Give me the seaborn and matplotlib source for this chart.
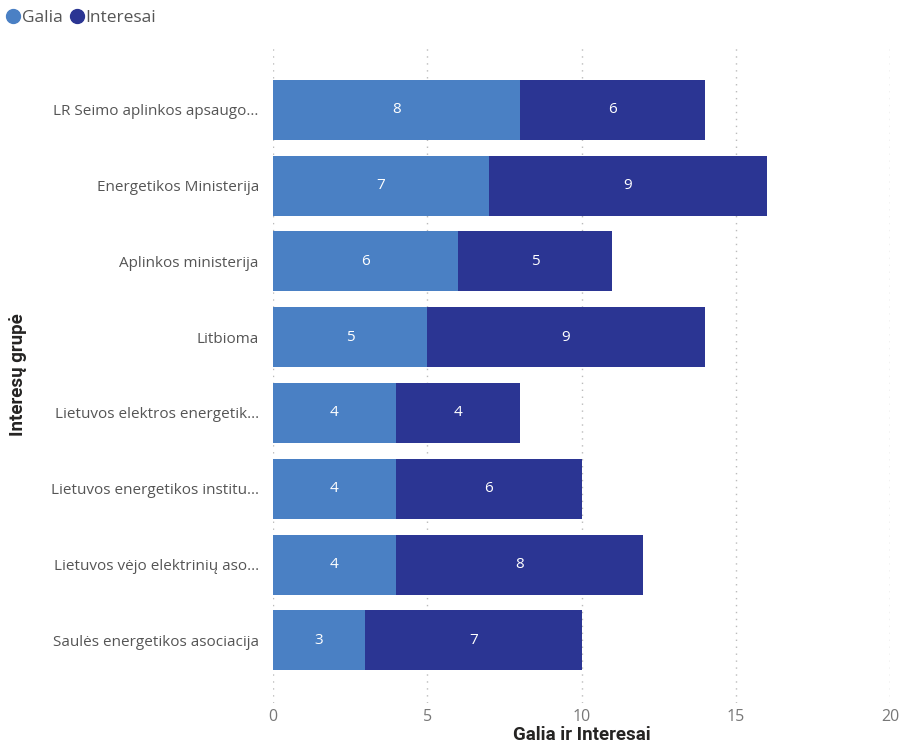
import pandas as pd
import matplotlib
matplotlib.use("Agg")
import matplotlib.pyplot as plt
import seaborn as sns
from matplotlib.lines import Line2D

groups = [
    "LR Seimo aplinkos apsaugo...",
    "Energetikos Ministerija",
    "Aplinkos ministerija",
    "Litbioma",
    "Lietuvos elektros energetik...",
    "Lietuvos energetikos institu...",
    "Lietuvos vėjo elektrinių aso...",
    "Saulės energetikos asociacija",
]
galia = [8, 7, 6, 5, 4, 4, 4, 3]
interesai = [6, 9, 5, 9, 4, 6, 8, 7]

c_galia = "#4a80c4"
c_inter = "#2b3593"

df = pd.DataFrame({"group": groups, "Galia": galia, "Interesai": interesai})
df["total"] = df["Galia"] + df["Interesai"]

sns.set_style("white")
plt.rcParams["font.family"] = ["Open Sans", "DejaVu Sans"]

fig = plt.figure(figsize=(9.03, 7.49), dpi=100)
ax = fig.add_axes([0.302, 0.061, 0.684, 0.879])

sns.barplot(data=df, y="group", x="total", color=c_inter, width=0.79,
            saturation=1, linewidth=0, ax=ax, zorder=2)
sns.barplot(data=df, y="group", x="Galia", color=c_galia, width=0.79,
            saturation=1, linewidth=0, ax=ax, zorder=3)

# value labels
for i, row in df.iterrows():
    ax.text(row["Galia"] / 2, i, str(row["Galia"]), color="white",
            ha="center", va="center", fontsize=11, zorder=4)
    ax.text(row["Galia"] + row["Interesai"] / 2, i, str(row["Interesai"]),
            color="white", ha="center", va="center", fontsize=11, zorder=4)

ax.set_xlim(0, 20)
ax.set_ylim(7.83, -0.855)
ax.set_xticks([0, 5, 10, 15, 20])
ax.xaxis.grid(True, linestyle=(0, (1, 4)), color="#bbbbbb", linewidth=1)
ax.set_axisbelow(True)
for s in ax.spines.values():
    s.set_visible(False)
ax.tick_params(axis="both", length=0)
ax.tick_params(axis="x", colors="#777777", labelsize=11.5, pad=4)
ax.tick_params(axis="y", colors="#555555", labelsize=11, pad=10)

ax.set_xlabel("Galia ir Interesai", fontsize=13.5, color="#252423",
              fontweight="bold", labelpad=1, family=["Roboto", "DejaVu Sans"])
ax.set_ylabel("Interesų grupė", fontsize=13.5, color="#252423",
              fontweight="bold", labelpad=17, family=["Roboto", "DejaVu Sans"])

handles = [
    Line2D([], [], marker="o", linestyle="none", color=c_galia, markersize=10),
    Line2D([], [], marker="o", linestyle="none", color=c_inter, markersize=10),
]
fig.legend(handles, ["Galia", "Interesai"], loc="upper left",
           bbox_to_anchor=(-0.012, 1.008), ncol=2, frameon=False,
           handlelength=1.0, handletextpad=0.0, columnspacing=0.3,
           fontsize=12.5, labelcolor="#555555")

fig.savefig("out.png", dpi=100)
